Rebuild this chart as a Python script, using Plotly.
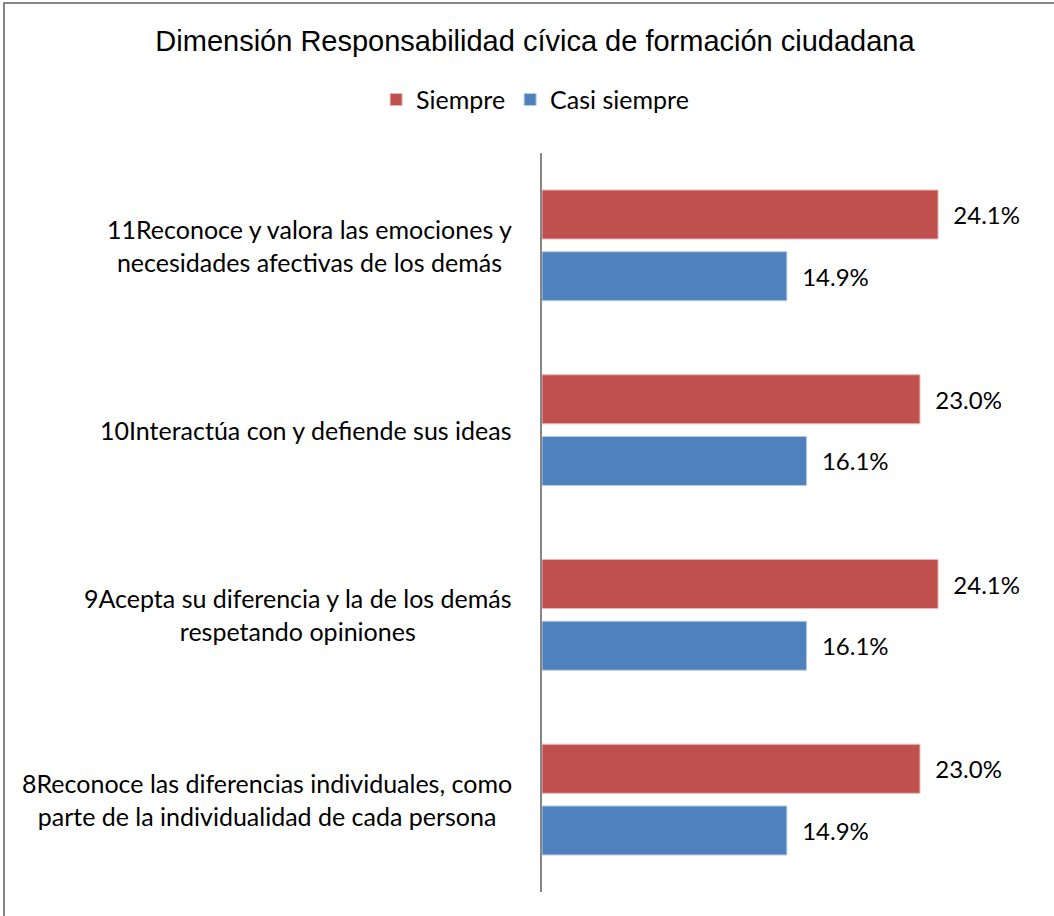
import plotly.graph_objects as go

categories = [
    "8Reconoce las diferencias individuales, como<br>parte de la individualidad de cada persona",
    "9Acepta su diferencia y la de los demás<br>respetando opiniones",
    "10Interactúa con y defiende sus ideas",
    "11Reconoce y valora las emociones y<br>necesidades afectivas de los demás",
]
siempre = [23.0, 24.1, 23.0, 24.1]
casi_siempre = [14.9, 16.1, 16.1, 14.9]
series_names = ["Siempre", "Casi siempre"]
title_text = "Dimensión Responsabilidad cívica de formación ciudadana"

RED = "#C0504D"
BLUE = "#4F81BD"
FONT = "Lato"
NB = "\u00a0\u00a0"

fig = go.Figure()
fig.add_trace(go.Bar(
    y=categories, x=casi_siempre, orientation="h", name=series_names[1],
    marker=dict(color=BLUE, line=dict(color="#B9CDE5", width=1)),
    text=[NB + f"{v:.1f}%" for v in casi_siempre], textposition="outside",
    textfont=dict(family=FONT, size=24, color="black"),
    cliponaxis=False, legendrank=2, hoverinfo="skip",
))
fig.add_trace(go.Bar(
    y=categories, x=siempre, orientation="h", name=series_names[0],
    marker=dict(color=RED, line=dict(color="#E6B9B8", width=1)),
    text=[NB + f"{v:.1f}%" for v in siempre], textposition="outside",
    textfont=dict(family=FONT, size=24, color="black"),
    cliponaxis=False, legendrank=1, hoverinfo="skip",
))

for c in categories:
    fig.add_annotation(
        x=0, xref="paper", y=c, yref="y", text=c, showarrow=False,
        xanchor="right", yanchor="middle", align="center", xshift=-28,
        font=dict(family=FONT, size=25, color="black"),
    )

# chart frame
fig.add_shape(type="rect", xref="paper", yref="paper",
              x0=-1.0913, x1=1.2, y0=-0.2, y1=1.2030,
              line=dict(color="#868686", width=2), layer="below")

fig.update_layout(
    width=1054, height=916,
    margin=dict(l=542, r=19, t=153, b=24, autoexpand=False),
    paper_bgcolor="white", plot_bgcolor="white",
    barmode="group", bargap=0.332, bargroupgap=0.206,
    title=dict(text=title_text, x=0.5076, xref="container", xanchor="center",
               y=1 - 41 / 916, yref="container", yanchor="middle",
               font=dict(family="Liberation Sans", size=29, color="black")),
    legend=dict(orientation="h", x=-0.014, xanchor="center", y=1.072, yanchor="middle",
                font=dict(family=FONT, size=25, color="black"),
                itemwidth=30, traceorder="normal"),
    xaxis=dict(range=[0, 30], visible=False, showgrid=False, zeroline=False, fixedrange=True),
    yaxis=dict(showticklabels=False, showgrid=False, zeroline=False, ticks="",
               showline=True, linecolor="#868686", linewidth=2, fixedrange=True),
)

fig.write_html("out.html", config={"displayModeBar": False},
               post_script="document.body.style.margin='0';")
